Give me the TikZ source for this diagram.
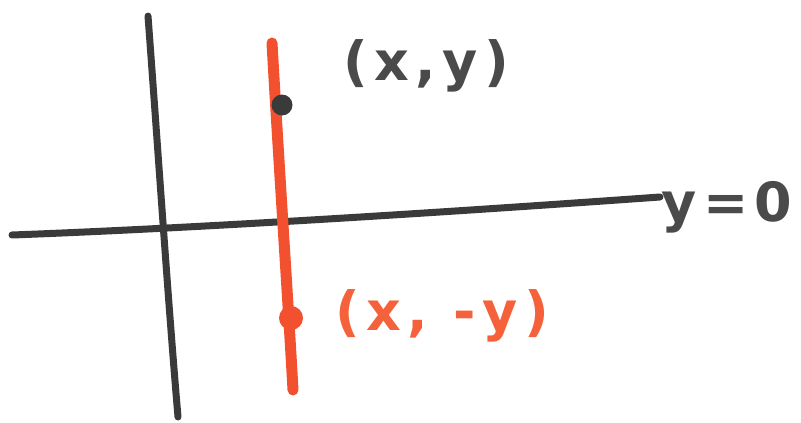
\documentclass[tikz,border=0pt]{standalone}
\usepackage{fontspec}
\setmainfont{DejaVu Sans}
\definecolor{ink}{HTML}{3A3A3A}
\definecolor{textink}{HTML}{4A4A4A}
\definecolor{redink}{HTML}{F2502E}
\definecolor{redtext}{HTML}{F5613A}
\begin{document}
\begin{tikzpicture}[x=1pt,y=-1pt,
  axis/.style={draw=ink,line width=7pt,line cap=round},
  redline/.style={draw=redink,line width=11pt,line cap=round},
  lbl/.style={font=\fontsize{54}{56}\selectfont\bfseries\addfontfeature{LetterSpace=12},inner sep=0pt}]
\useasboundingbox (0,0) rectangle (801,423);
\coordinate (vt) at (148,16);
\coordinate (vb) at (178,417);
\coordinate (hl) at (12,235);
\coordinate (hr) at (660,197);
\coordinate (rt) at (272,43);
\coordinate (rb) at (293,390);
\draw[axis] (vt) .. controls (158,150) and (168,300) .. (vb);
\draw[axis] (hl) .. controls (200,228) and (450,212) .. (hr);
\draw[redline] (rt) .. controls (278,150) and (288,300) .. (rb);
\node[circle,fill=ink,minimum size=21pt,inner sep=0pt] (p) at (282,105) {};
\node[circle,fill=redink,minimum size=24pt,inner sep=0pt] (q) at (291,318) {};
\node[lbl,text=textink] (pl) at (426,66) {(x,y)};
\node[lbl,text=textink] (yl) at (727,207) {y=0};
\node[lbl,text=redtext] (ql) at (442,316) {(x, -y)};
\end{tikzpicture}
\end{document}
